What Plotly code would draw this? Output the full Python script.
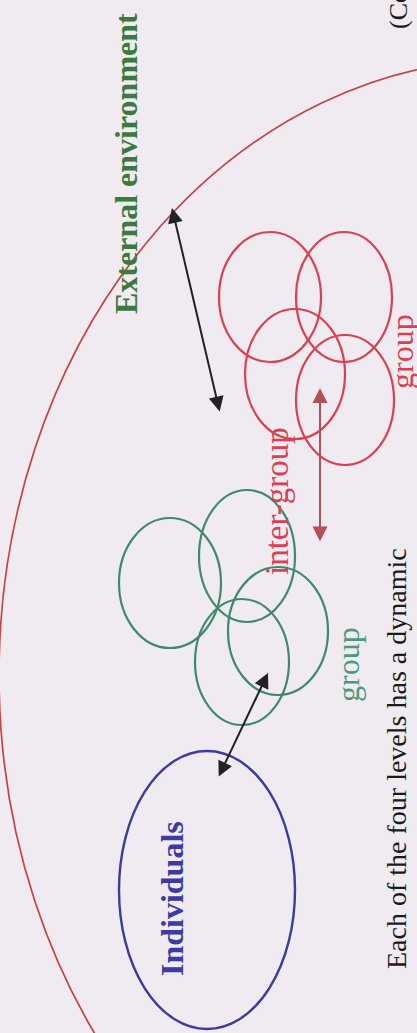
import plotly.graph_objects as go

# ---- data (diagram coordinates) ----
# red "group" circles
red_cx = [270, 344, 295, 345]
red_cy = [297, 297, 374, 400]
red_rx = [51, 48, 50, 49]
red_ry = [65, 65, 65, 65]

# green "group" circles
green_cx = [170, 247, 278, 242]
green_cy = [583, 556, 631, 662]
green_rx = [51, 48, 50, 47]
green_ry = [65, 66, 64, 63]

# individuals ellipse
ind_cx, ind_cy, ind_rx, ind_ry = 207, 890, 88, 139

# external environment boundary ellipse
env_cx, env_cy, env_rx, env_ry = 512, 675, 513, 616

# arrows: (x_head, y_head, x_tail, y_tail)
arrows_black = [(172, 208, 220, 413), (268, 673, 218, 778)]
arrows_red = [(320, 388, 320, 543)]

labels = {
    "env": "External environment",
    "ind": "Individuals",
    "inter": "inter-group",
    "group": "group",
    "note": "Each of the four levels has a dynamic",
    "cont": "(Continued)",
}

BG = "#efebf0"
RED = "#dc3f50"
GREEN = "#3f8a6c"
BLUE = "#3b3ba3"
DARKRED = "#b4505a"
SERIF = "Liberation Serif, Times New Roman, serif"

fig = go.Figure()
fig.add_trace(go.Scatter(x=[0, 417], y=[0, 1033], mode="markers",
                         marker=dict(opacity=0), hoverinfo="skip", showlegend=False))

shapes = []
def ellipse(cx, cy, rx, ry, color, width):
    return dict(type="circle", xref="x", yref="y",
                x0=cx - rx, x1=cx + rx, y0=cy - ry, y1=cy + ry,
                line=dict(color=color, width=width), fillcolor="rgba(0,0,0,0)")

shapes.append(ellipse(env_cx, env_cy, env_rx, env_ry, "#cc4040", 1.7))
for cx, cy, rx, ry in zip(red_cx, red_cy, red_rx, red_ry):
    shapes.append(ellipse(cx, cy, rx, ry, RED, 2.2))
for cx, cy, rx, ry in zip(green_cx, green_cy, green_rx, green_ry):
    shapes.append(ellipse(cx, cy, rx, ry, GREEN, 2.2))
shapes.append(ellipse(ind_cx, ind_cy, ind_rx, ind_ry, BLUE, 2.4))

ann = []
def arrow(x, y, ax, ay, color):
    return dict(x=x, y=y, ax=ax, ay=ay, xref="x", yref="y", axref="x", ayref="y",
                text="", showarrow=True, arrowhead=2, startarrowhead=2,
                arrowside="end+start", arrowsize=1.5, startarrowsize=1.5,
                arrowwidth=2, arrowcolor=color, standoff=0, startstandoff=0)

for a in arrows_black:
    ann.append(arrow(*a, "#222222"))
for a in arrows_red:
    ann.append(arrow(*a, DARKRED))

def label(text, x, y, size, color, bold=False, yanchor="middle"):
    t = f"<b>{text}</b>" if bold else text
    return dict(text=t, x=x, y=y, xref="x", yref="y", showarrow=False,
                textangle=-90, xanchor="center", yanchor=yanchor,
                font=dict(family=SERIF, size=size, color=color))

ann.append(label(labels["env"], 126, 164, 32, "#3b7a3f", bold=True))
ann.append(label(labels["ind"], 172, 899, 32, BLUE, bold=True))
ann.append(label(labels["inter"], 277, 501, 33, RED))
ann.append(label(labels["group"], 402, 352, 32, RED))
ann.append(label(labels["group"], 348, 665, 32, "#4a9a7c"))
ann.append(label(labels["note"], 396, 759, 28, "#1a1a1a"))
ann.append(label(labels["cont"], 398, 31, 26, "#1a1a1a", yanchor="bottom"))

fig.update_layout(
    width=417, height=1033,
    margin=dict(l=0, r=0, t=0, b=0),
    paper_bgcolor=BG, plot_bgcolor=BG,
    xaxis=dict(range=[0, 417], visible=False, fixedrange=True),
    yaxis=dict(range=[1033, 0], visible=False, fixedrange=True),
    shapes=shapes, annotations=ann, showlegend=False,
)
fig.write_html("out.html", config={"displayModeBar": False},
               post_script="document.body.style.margin='0';document.body.style.background='" + BG + "';")
